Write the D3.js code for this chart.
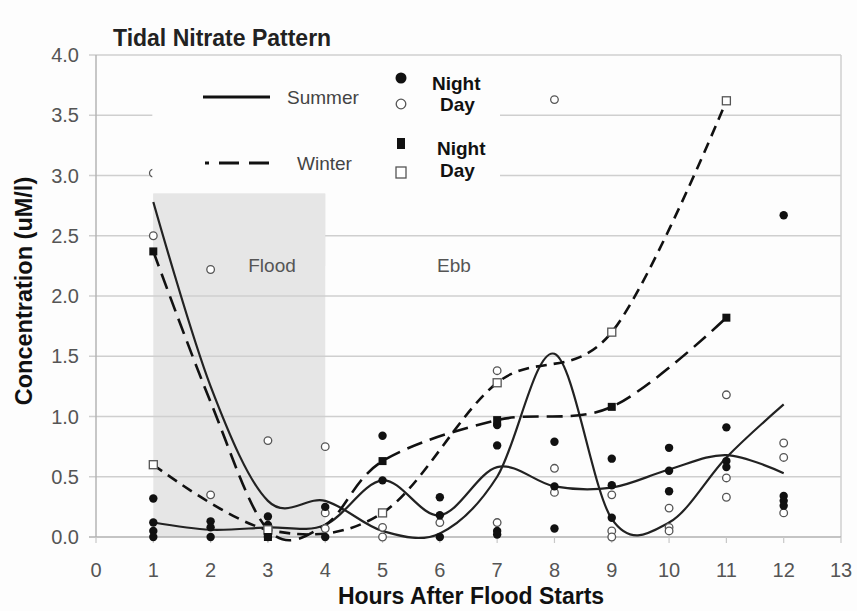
<!DOCTYPE html>
<html><head><meta charset="utf-8">
<script src="https://cdn.jsdelivr.net/npm/d3@7"></script>
<style>body{margin:0;background:#fff} svg{display:block}</style>
</head><body>
<svg id="c" width="857" height="611"></svg>
<script>
// ---- data ----
const xTicks = [0,1,2,3,4,5,6,7,8,9,10,11,12,13];
const yTicks = [0,0.5,1,1.5,2,2.5,3,3.5,4];
const yTickLabels = ["0.0","0.5","1.0","1.5","2.0","2.5","3.0","3.5","4.0"];
// smoothed mean lines
const summerDayLine   = [[1,2.78],[2,1.25],[3,0.3],[4,0.3],[5,0.05],[6,0.03],[7,0.5],[8,1.52],[9,0.15],[10,0.12],[11,0.66],[12,1.1]];
const summerNightLine = [[1,0.12],[2,0.06],[3,0.08],[4,0.1],[5,0.47],[6,0.18],[7,0.58],[8,0.42],[9,0.41],[10,0.56],[11,0.68],[12,0.53]];
const winterNightLine = [[1,2.37],[2,1.12],[3,0.06],[4,0.1],[5,0.63],[7,0.97],[9,1.08],[11,1.82]];
const winterDayLine   = [[1,0.6],[3,0.06],[5,0.2],[7,1.28],[9,1.7],[11,3.62]];
// observations
const summerNightPts = [[1,0.32],[1,0.12],[1,0.05],[1,0.0],[2,0.13],[2,0.08],[2,0.0],[3,0.17],[3,0.1],[3,0.02],[3,0.0],
  [4,0.25],[4,0.0],[5,0.84],[5,0.47],[6,0.33],[6,0.18],[6,0.0],[7,0.93],[7,0.76],[7,0.05],[7,0.02],
  [8,0.79],[8,0.42],[8,0.07],[9,0.65],[9,0.43],[9,0.16],[10,0.74],[10,0.55],[10,0.38],
  [11,0.91],[11,0.63],[11,0.58],[12,2.67],[12,0.34],[12,0.3],[12,0.26]];
const summerDayPts = [[1,3.02],[1,2.5],[2,2.22],[2,0.35],[3,0.8],[3,0.08],[4,0.75],[4,0.2],[4,0.07],[5,0.08],[5,0.0],
  [6,0.12],[7,1.38],[7,0.12],[8,3.63],[8,0.57],[8,0.37],[9,0.35],[9,0.05],[9,0.0],[10,0.24],[10,0.08],[10,0.05],
  [11,1.18],[11,0.49],[11,0.33],[12,0.78],[12,0.66],[12,0.2]];
const winterNightPts = [[1,2.37],[3,0.0],[5,0.63],[7,0.97],[9,1.08],[11,1.82]];
const winterDayPts = [[1,0.6],[3,0.06],[5,0.2],[7,1.28],[9,1.7],[11,3.62]];
const floodRange = [1,4];
const floodTop = 2.85;

// ---- drawing ----
const svg = d3.select("#c");
const FONT = "'Liberation Sans', Arial, sans-serif";
const x = d3.scaleLinear().domain([0,13]).range([96,841]);
const y = d3.scaleLinear().domain([0,4]).range([537,55]);

svg.append("rect").attr("width",857).attr("height",611).attr("fill","#fdfdfd");

// flood shading
svg.append("rect").attr("x",x(floodRange[0])).attr("y",y(floodTop))
  .attr("width",x(floodRange[1])-x(floodRange[0])).attr("height",y(0)-y(floodTop)).attr("fill","#e6e6e6");

// gridlines
svg.append("g").selectAll("line").data(yTicks.filter(d=>d>0)).join("line")
  .attr("x1",89).attr("x2",x(13)).attr("y1",d=>y(d)).attr("y2",d=>y(d))
  .attr("stroke","#cfcfcf").attr("stroke-width",1.5);
// flood top part covers upper gridline
svg.append("rect").attr("x",x(floodRange[0])).attr("y",y(floodTop))
  .attr("width",x(floodRange[1])-x(floodRange[0])).attr("height",y(2.25)-y(floodTop)).attr("fill","#e6e6e6");

// axes frame
svg.append("line").attr("x1",x(0)).attr("x2",x(0)).attr("y1",y(4)).attr("y2",y(0)).attr("stroke","#b5b5b5").attr("stroke-width",1.5);
svg.append("line").attr("x1",x(13)).attr("x2",x(13)).attr("y1",y(4)).attr("y2",y(0)).attr("stroke","#cfcfcf").attr("stroke-width",1.5);
svg.append("line").attr("x1",89).attr("x2",x(13)).attr("y1",y(0)).attr("y2",y(0)).attr("stroke","#b0b0b0").attr("stroke-width",1.5);
svg.append("g").selectAll("line").data(xTicks).join("line")
  .attr("x1",d=>x(d)).attr("x2",d=>x(d)).attr("y1",y(0)).attr("y2",y(0)+6)
  .attr("stroke","#c8c8c8").attr("stroke-width",1.2);

// tick labels
svg.append("g").selectAll("text").data(yTicks).join("text")
  .attr("x",79).attr("y",d=>y(d)).attr("dy","0.36em").attr("text-anchor","end")
  .attr("font-family",FONT).attr("font-size",20).attr("fill","#555")
  .text((d,i)=>yTickLabels[i]);
svg.append("g").selectAll("text").data(xTicks).join("text")
  .attr("x",d=>x(d)).attr("y",577).attr("text-anchor","middle")
  .attr("font-family",FONT).attr("font-size",20).attr("fill","#555")
  .text(d=>d);

// lines
const line = d3.line().x(d=>x(d[0])).y(d=>y(d[1])).curve(d3.curveCardinal.tension(0));
svg.append("path").attr("d",line(summerDayLine)).attr("fill","none").attr("stroke","#222").attr("stroke-width",2.2);
svg.append("path").attr("d",line(summerNightLine)).attr("fill","none").attr("stroke","#222").attr("stroke-width",2.2);
svg.append("path").attr("d",line(winterNightLine)).attr("fill","none").attr("stroke","#111").attr("stroke-width",2.6).attr("stroke-dasharray","16,8");
svg.append("path").attr("d",line(winterDayLine)).attr("fill","none").attr("stroke","#111").attr("stroke-width",2.6).attr("stroke-dasharray","11,7");

// markers
svg.append("g").selectAll("circle").data(summerDayPts).join("circle")
  .attr("cx",d=>x(d[0])).attr("cy",d=>y(d[1])).attr("r",3.8)
  .attr("fill","#fff").attr("stroke","#555").attr("stroke-width",1.3);
svg.append("g").selectAll("circle").data(summerNightPts).join("circle")
  .attr("cx",d=>x(d[0])).attr("cy",d=>y(d[1])).attr("r",4.2).attr("fill","#111");
svg.append("g").selectAll("rect").data(winterDayPts).join("rect")
  .attr("x",d=>x(d[0])-4).attr("y",d=>y(d[1])-4).attr("width",8).attr("height",8)
  .attr("fill","#fff").attr("stroke","#555").attr("stroke-width",1.3);
svg.append("g").selectAll("rect").data(winterNightPts).join("rect")
  .attr("x",d=>x(d[0])-4).attr("y",d=>y(d[1])-4).attr("width",8).attr("height",8).attr("fill","#111");

// legend box
svg.append("rect").attr("x",x(1)-1).attr("y",59).attr("width",501-x(1)).attr("height",131).attr("fill","#fdfdfd");
const lg = svg.append("g").attr("font-family",FONT);
lg.append("line").attr("x1",203).attr("x2",270).attr("y1",97).attr("y2",97).attr("stroke","#111").attr("stroke-width",3);
lg.append("text").attr("x",287).attr("y",97).attr("dy","0.36em").attr("font-size",19).attr("fill","#444").text("Summer");
lg.append("line").attr("x1",205).attr("x2",270).attr("y1",163).attr("y2",163).attr("stroke","#111").attr("stroke-width",3.2)
  .attr("stroke-dasharray","20,10").attr("stroke-dashoffset",16);
lg.append("text").attr("x",297).attr("y",163).attr("dy","0.36em").attr("font-size",19).attr("fill","#444").text("Winter");
lg.append("circle").attr("cx",401).attr("cy",78).attr("r",5.5).attr("fill","#111");
lg.append("circle").attr("cx",401).attr("cy",104).attr("r",4.8).attr("fill","#fff").attr("stroke","#555").attr("stroke-width",1.3);
lg.append("rect").attr("x",397).attr("y",138).attr("width",8).attr("height",11).attr("fill","#111");
lg.append("rect").attr("x",396).attr("y",167).attr("width",10).attr("height",11).attr("fill","#fff").attr("stroke","#555").attr("stroke-width",1.3);
[["Night",432,83],["Day",440,104],["Night",437,148],["Day",440,170]].forEach(t=>{
  lg.append("text").attr("x",t[1]).attr("y",t[2]).attr("dy","0.36em").attr("font-size",19).attr("font-weight","bold").attr("fill","#111").text(t[0]);
});

// region labels
svg.append("text").attr("x",272).attr("y",265).attr("dy","0.36em").attr("text-anchor","middle")
  .attr("font-family",FONT).attr("font-size",19).attr("fill","#555").text("Flood");
svg.append("text").attr("x",454).attr("y",265).attr("dy","0.36em").attr("text-anchor","middle")
  .attr("font-family",FONT).attr("font-size",19).attr("fill","#555").text("Ebb");

// titles
svg.append("text").attr("x",113).attr("y",46).attr("font-family",FONT).attr("font-size",23)
  .attr("font-weight","bold").attr("fill","#222").text("Tidal Nitrate Pattern");
svg.append("text").attr("x",471).attr("y",604).attr("text-anchor","middle").attr("font-family",FONT).attr("font-size",23)
  .attr("font-weight","bold").attr("fill","#111").text("Hours After Flood Starts");
svg.append("text").attr("transform","translate(32,291) rotate(-90)").attr("text-anchor","middle").attr("font-family",FONT).attr("font-size",23.5)
  .attr("font-weight","bold").attr("fill","#111").text("Concentration (uM/l)");
</script>
</body></html>
